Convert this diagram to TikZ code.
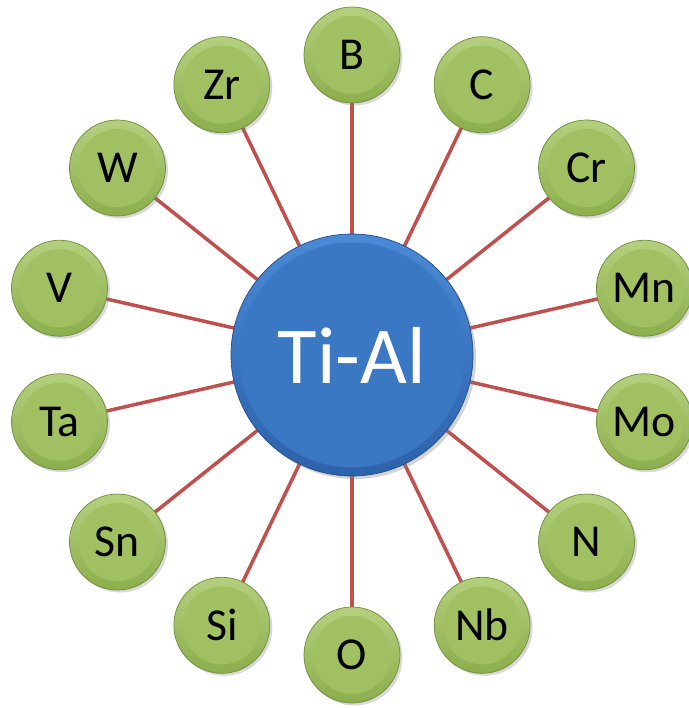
\documentclass[tikz,border=0pt]{standalone}
\usepackage{fontspec}
\setmainfont{Carlito}
\usepackage{xcolor}
\usepackage{tikz}
\usetikzlibrary{shapes,positioning,backgrounds,shadows}

\definecolor{elemlight}{HTML}{B4D07E}
\definecolor{elemdark}{HTML}{8CAE4C}
\definecolor{elemmid}{HTML}{A0C062}
\definecolor{elemedge}{HTML}{6E8C3A}
\definecolor{tilight}{HTML}{4A8AD6}
\definecolor{tidark}{HTML}{2C62AA}
\definecolor{timid}{HTML}{3A78C4}
\definecolor{linkred}{HTML}{C0504D}

\begin{document}
\begin{tikzpicture}[
    core/.style={circle, draw=tidark!80!black, line width=0.4pt, minimum size=4.84cm, inner sep=0pt,
        top color=tilight, bottom color=tidark, text=white, font=\fontsize{46}{46}\selectfont,
        drop shadow={opacity=0.35, shadow xshift=0.06cm, shadow yshift=-0.06cm},
        path picture={\fill[timid] (path picture bounding box.center) circle (2.25cm);}},
    element/.style={circle, draw=elemedge, line width=0.4pt, minimum size=1.92cm, inner sep=0pt,
        top color=elemlight, bottom color=elemdark, font=\fontsize{26}{26}\selectfont,
        drop shadow={opacity=0.3, shadow xshift=0.05cm, shadow yshift=-0.05cm},
        path picture={\fill[elemmid] (path picture bounding box.center) circle (0.78cm);}},
    link/.style={draw=linkred, line width=2pt}
]
\clip (-7.04,-7.06) rectangle (6.74,7.1);

% Centre
\node[core] (tial) at (0,0) {Ti-Al};

% Alloying elements (clockwise from top)
\node[element] (b)  at (90:6)      {B};
\node[element] (c)  at (64.29:6)   {C};
\node[element] (cr) at (38.57:6)   {Cr};
\node[element] (mn) at (12.86:6)   {Mn};
\node[element] (mo) at (-12.86:6)  {Mo};
\node[element] (n)  at (-38.57:6)  {N};
\node[element] (nb) at (-64.29:6)  {Nb};
\node[element] (o)  at (-90:6)     {O};
\node[element] (si) at (-115.71:6) {Si};
\node[element] (sn) at (-141.43:6) {Sn};
\node[element] (ta) at (-167.14:6) {Ta};
\node[element] (v)  at (167.14:6)  {V};
\node[element] (w)  at (141.43:6)  {W};
\node[element] (zr) at (115.71:6)  {Zr};

% Links
\begin{scope}[on background layer]
\foreach \e in {b,c,cr,mn,mo,n,nb,o,si,sn,ta,v,w,zr}
    \draw[link] (tial.center) -- (\e.center);
\end{scope}

\end{tikzpicture}
\end{document}
